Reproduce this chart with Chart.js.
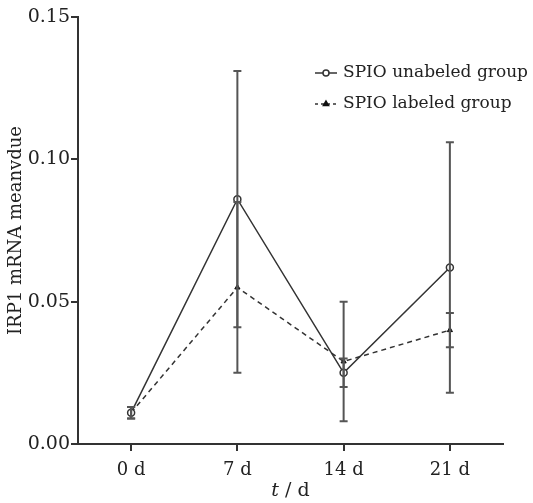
<!DOCTYPE html>
<html>
<head>
<meta charset="utf-8">
<script src="https://cdn.jsdelivr.net/npm/chart.js@4/dist/chart.umd.min.js"></script>
<style>
  html, body { margin: 0; padding: 0; background: #fff; }
  #wrap { width: 533px; height: 503px; }
</style>
</head>
<body>
<div id="wrap"><canvas id="irpChart"></canvas></div>
<script>
// x-axis categories
var days = ["0 d", "7 d", "14 d", "21 d"];
// means
var unlabeled = [0.011, 0.086, 0.025, 0.062];
var labeled = [0.011, 0.055, 0.029, 0.040];
// +/- error bar half-lengths
var unlabeledErr = [0.002, 0.045, 0.005, 0.044];
var labeledErr = [0.002, 0.030, 0.021, 0.006];
// y tick values
var yTicks = [0, 0.05, 0.10, 0.15];

var ink = "#333";
var serif = "'DejaVu Serif', 'Liberation Serif', serif";

// vertical error bars with small caps, drawn through the chart's own scales
var errorBars = {
  id: 'errorBars',
  afterDatasetsDraw: function (chart) {
    var ctx = chart.ctx;
    var xs = chart.scales.x, ys = chart.scales.y;
    ctx.save();
    ctx.strokeStyle = "#555";
    ctx.lineWidth = 2;
    chart.data.datasets.forEach(function (ds) {
      ds.data.forEach(function (v, i) {
        var x = xs.getPixelForValue(i);
        var top = ys.getPixelForValue(v + ds.errors[i]);
        var bot = ys.getPixelForValue(v - ds.errors[i]);
        ctx.beginPath();
        ctx.moveTo(x, top); ctx.lineTo(x, bot);
        ctx.moveTo(x - 4, top); ctx.lineTo(x + 4, top);
        ctx.moveTo(x - 4, bot); ctx.lineTo(x + 4, bot);
        ctx.stroke();
      });
    });
    ctx.restore();
  }
};

// legend (short line with marker + label) and the x title with italic t
var sideLegend = {
  id: 'sideLegend',
  afterDraw: function (chart) {
    var ctx = chart.ctx;
    var x0 = 315, y0 = 73, gap = 31;
    ctx.save();
    chart.data.datasets.forEach(function (ds, k) {
      var y = y0 + k * gap;
      ctx.strokeStyle = ink;
      ctx.lineWidth = 1.5;
      ctx.setLineDash(ds.borderDash ? [3, 3] : []);
      ctx.beginPath();
      ctx.moveTo(x0, y); ctx.lineTo(x0 + 22, y);
      ctx.stroke();
      ctx.setLineDash([]);
      ctx.fillStyle = ds.pointBackgroundColor;
      ctx.strokeStyle = ds.pointBorderColor;
      Chart.helpers.drawPoint(ctx, {
        pointStyle: ds.pointStyle, radius: 3, borderWidth: 1.5
      }, x0 + 11, y);
      ctx.fillStyle = "#222";
      ctx.font = "17px " + serif;
      ctx.textBaseline = "middle";
      ctx.fillText(ds.label, x0 + 28, y);
    });

    var area = chart.chartArea;
    var cx = (area.left + area.right) / 2;
    var ty = 491;
    ctx.textBaseline = "middle";
    ctx.font = "italic 19px " + serif;
    var w1 = ctx.measureText("t").width;
    ctx.font = "19px " + serif;
    var w2 = ctx.measureText(" / d").width;
    var sx = cx - (w1 + w2) / 2;
    ctx.font = "italic 19px " + serif;
    ctx.fillText("t", sx, ty);
    ctx.font = "19px " + serif;
    ctx.fillText(" / d", sx + w1, ty);
    ctx.restore();
  }
};

var ctx = document.getElementById("irpChart");
var myChart = new Chart(ctx, {
  type: 'line',
  data: {
    labels: days,
    datasets: [
      {
        label: "SPIO unabeled group",
        data: unlabeled,
        errors: unlabeledErr,
        borderColor: ink,
        borderWidth: 1.5,
        pointStyle: 'circle',
        pointRadius: 3.5,
        pointBorderWidth: 1.5,
        pointBackgroundColor: "#fff",
        pointBorderColor: ink,
        fill: false,
        tension: 0
      },
      {
        label: "SPIO labeled group",
        data: labeled,
        errors: labeledErr,
        borderColor: ink,
        borderWidth: 1.5,
        borderDash: [5, 4],
        pointStyle: 'triangle',
        pointRadius: 3,
        pointBorderWidth: 1,
        pointBackgroundColor: "#111",
        pointBorderColor: "#111",
        fill: false,
        tension: 0
      }
    ]
  },
  plugins: [errorBars, sideLegend],
  options: {
    responsive: true,
    maintainAspectRatio: false,
    animation: false,
    layout: { padding: { top: 17, right: 30, left: 0, bottom: 0 } },
    plugins: {
      legend: { display: false },
      tooltip: { enabled: false }
    },
    scales: {
      x: {
        offset: true,
        grid: { display: true, drawOnChartArea: false, offset: false, tickLength: 7, color: ink, lineWidth: 2 },
        border: { color: ink, width: 2 },
        ticks: { color: "#222", font: { family: serif, size: 18 }, padding: 9 },
        afterFit: function (s) { s.height = 59; }
      },
      y: {
        min: 0,
        max: 0.15,
        afterBuildTicks: function (s) {
          s.ticks = yTicks.map(function (v) { return { value: v }; });
        },
        grid: { display: true, drawOnChartArea: false, tickLength: 7, color: ink, lineWidth: 2 },
        border: { color: ink, width: 2 },
        ticks: {
          color: "#222",
          font: { family: serif, size: 19 },
          padding: 1,
          callback: function (v) { return v.toFixed(2); }
        },
        title: { display: true, text: "IRP1 mRNA meanvdue", color: "#222", font: { family: serif, size: 18 }, padding: { top: 6, bottom: 0 } },
        afterFit: function (s) { s.width = 78; }
      }
    }
  }
});
</script>
</body>
</html>
